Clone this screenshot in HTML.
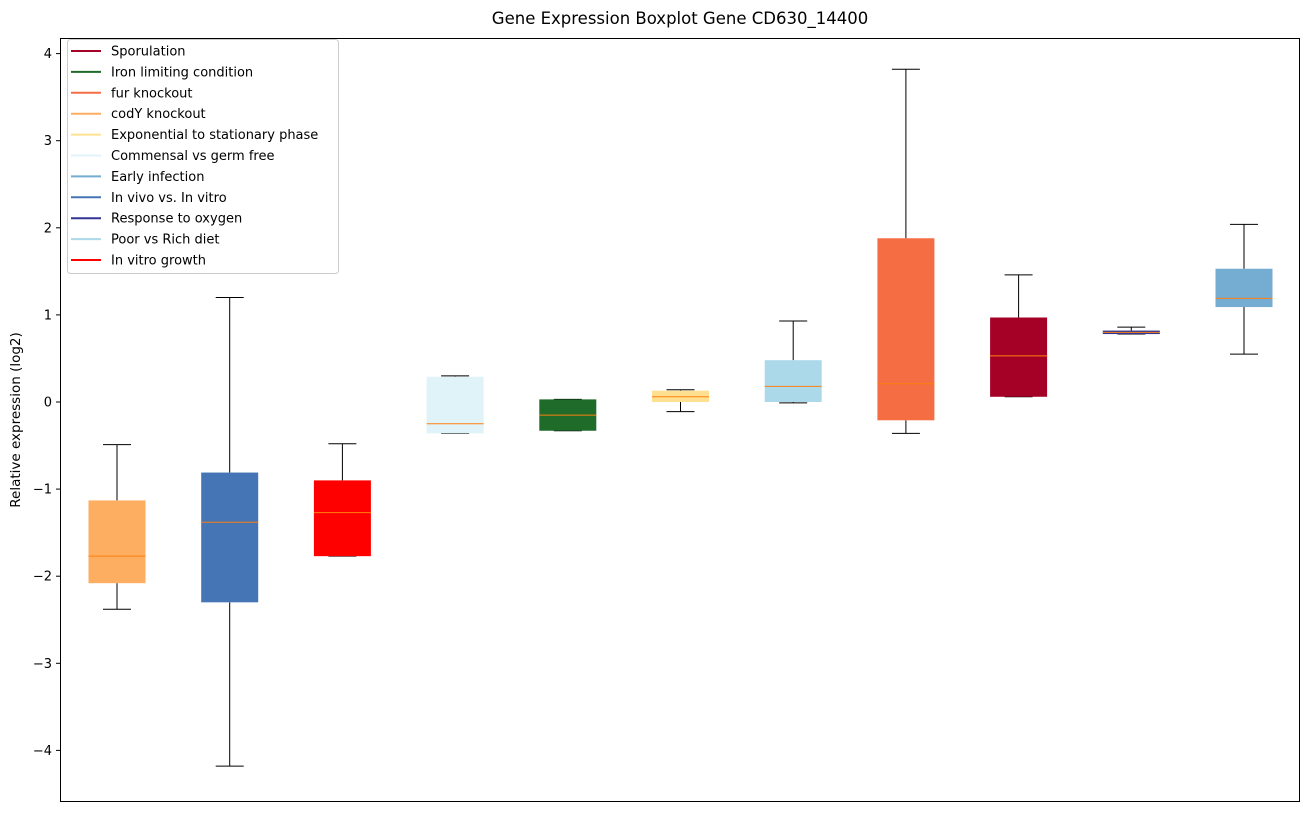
<!DOCTYPE html>
<html><head><meta charset="utf-8"><style>
body{margin:0;background:#fff;font-family:"Liberation Sans","DejaVu Sans",sans-serif;}
svg text{font-family:"DejaVu Sans","Liberation Sans",sans-serif;}
</style></head><body>
<svg id="chart" width="1309" height="812" xmlns="http://www.w3.org/2000/svg">
<text x="680" y="24" text-anchor="middle" font-size="16.5">Gene Expression Boxplot Gene CD630_14400</text>
<text transform="translate(20,420) rotate(-90)" text-anchor="middle" font-size="13.5">Relative expression (log2)</text>
<g id="boxes"></g>
<g id="yticks"></g>
<rect x="60.5" y="38.5" width="1239" height="763" fill="none" stroke="#000" stroke-width="1"/>
<g id="legend"></g>
</svg>
<script>
const categories=["codY knockout","In vivo vs. In vitro","In vitro growth","Commensal vs germ free","Iron limiting condition","Exponential to stationary phase","Poor vs Rich diet","fur knockout","Sporulation","Response to oxygen","Early infection"];
const colors=["#fdae61","#4575b4","#ff0000","#e0f3f8","#1e6b2a","#fee090","#abd9e9","#f46d43","#a50026","#313695","#74add1"];
const whiskLow=[-2.38,-4.18,-1.77,-0.36,-0.33,-0.11,-0.01,-0.36,0.06,0.78,0.55];
const q1=[-2.08,-2.3,-1.77,-0.36,-0.33,0.0,0.0,-0.21,0.06,0.78,1.09];
const median=[-1.77,-1.38,-1.27,-0.25,-0.15,0.06,0.18,0.21,0.53,0.80,1.19];
const q3=[-1.13,-0.81,-0.9,0.29,0.03,0.13,0.48,1.88,0.97,0.82,1.53];
const whiskHigh=[-0.49,1.2,-0.48,0.3,0.03,0.14,0.93,3.82,1.46,0.86,2.04];
const yTicks=[-4,-3,-2,-1,0,1,2,3,4];
const legendLabels=["Sporulation","Iron limiting condition","fur knockout","codY knockout","Exponential to stationary phase","Commensal vs germ free","Early infection","In vivo vs. In vitro","Response to oxygen","Poor vs Rich diet","In vitro growth"];
const legendColors=["#a50026","#1e6b2a","#f46d43","#fdae61","#fee090","#e0f3f8","#74add1","#4575b4","#313695","#abd9e9","#ff0000"];
const NS="http://www.w3.org/2000/svg";
const y=v=>402-87.1*v;
const x=i=>117+i*112.7;
function mk(t,a,p){const e=document.createElementNS(NS,t);for(const k in a)e.setAttribute(k,a[k]);p.appendChild(e);return e;}
const gb=document.getElementById('boxes');
categories.forEach((c,i)=>{
 const g=mk('g',{},gb);
 
 
 const cx=x(i),hw=28.5,cw=14;
 mk('line',{x1:cx,x2:cx,y1:y(whiskLow[i]),y2:y(q1[i]),stroke:'#000'},g);
 mk('line',{x1:cx,x2:cx,y1:y(q3[i]),y2:y(whiskHigh[i]),stroke:'#000'},g);
 mk('line',{x1:cx-cw,x2:cx+cw,y1:y(whiskLow[i]),y2:y(whiskLow[i]),stroke:'#000'},g);
 mk('line',{x1:cx-cw,x2:cx+cw,y1:y(whiskHigh[i]),y2:y(whiskHigh[i]),stroke:'#000'},g);
 mk('rect',{x:cx-hw,y:y(q3[i]),width:2*hw,height:Math.max(1,y(q1[i])-y(q3[i])),fill:colors[i]},g);
 mk('line',{x1:cx-hw,x2:cx+hw,y1:y(median[i]),y2:y(median[i]),stroke:'#ff7f0e','stroke-width':1},g);
});
const gt=document.getElementById('yticks');
yTicks.forEach(v=>{
 const g=mk('g',{},gt);
 
 
 mk('line',{x1:56,x2:60,y1:y(v),y2:y(v),stroke:'#000'},g);
 const t=mk('text',{x:52,y:y(v)+4.5,'text-anchor':'end','font-size':'13'},g);
 t.textContent=v<0?'\u2212'+(-v):String(v);
});
const gl=document.getElementById('legend');


mk('rect',{x:67.5,y:39.5,width:271,height:234,rx:3,fill:'#fff','fill-opacity':0.8,stroke:'#ccc'},gl);
legendLabels.forEach((l,i)=>{
 const g=mk('g',{},gl);
 
 
 const yy=51+i*20.9;
 mk('line',{x1:71,x2:101,y1:yy,y2:yy,stroke:legendColors[i],'stroke-width':2},g);
 const t=mk('text',{x:111,y:yy+4.5,'font-size':'13'},g);
 t.textContent=l;
});
</script>
</body></html>
